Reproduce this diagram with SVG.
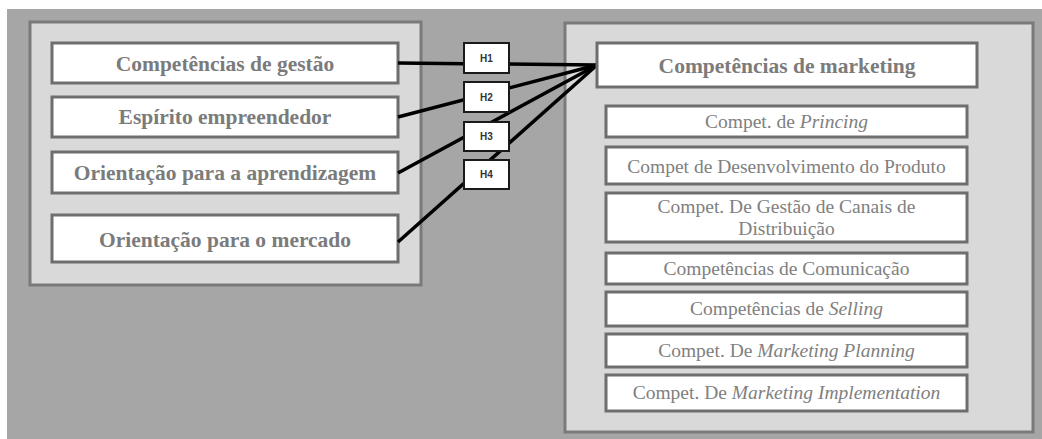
<svg xmlns="http://www.w3.org/2000/svg" width="1042" height="439" viewBox="0 0 1042 439">
  <style>
    .panel { fill: #d9d9d9; stroke: #7a7a7a; stroke-width: 3; }
    .box { fill: #ffffff; stroke: #6e6e6e; stroke-width: 3; }
    .hbox { fill: #ffffff; stroke: #1a1a1a; stroke-width: 2; }
    .link { stroke: #000000; stroke-width: 3.5; fill: none; }
    .lbl { font-family: "Liberation Serif", "Times New Roman", serif; font-weight: bold; font-size: 21.5px; fill: #7b7b7b; text-anchor: middle; }
    .sub { font-family: "Liberation Serif", "Times New Roman", serif; font-size: 19.5px; fill: #808080; text-anchor: middle; }
    .h { font-family: "Liberation Sans", Arial, sans-serif; font-weight: bold; font-size: 10px; fill: #333333; text-anchor: middle; }
    .it { font-style: italic; }
  </style>

  <!-- backdrop -->
  <rect x="0" y="0" width="1042" height="439" fill="#ffffff"/>
  <rect x="7" y="9" width="1035" height="430" fill="#a6a6a6"/>

  <!-- panels -->
  <rect class="panel" x="30" y="22" width="391" height="263"/>
  <rect class="panel" x="565" y="23" width="468" height="409"/>

  <!-- left-hand constructs -->
  <g id="gestao">
    <rect class="box" x="52" y="43" width="346" height="40"/>
    <text class="lbl" x="225" y="71">Competências de gestão</text>
  </g>
  <g id="empreendedor">
    <rect class="box" x="52" y="97" width="346" height="40"/>
    <text class="lbl" x="225" y="124">Espírito empreendedor</text>
  </g>
  <g id="aprendizagem">
    <rect class="box" x="52" y="152" width="346" height="41"/>
    <text class="lbl" x="225" y="180">Orientação para a aprendizagem</text>
  </g>
  <g id="mercado">
    <rect class="box" x="52" y="215" width="346" height="47"/>
    <text class="lbl" x="225" y="247">Orientação para o mercado</text>
  </g>

  <!-- connectors -->
  <g id="connectors">
    <line class="link" x1="398" y1="63" x2="597" y2="65"/>
    <line class="link" x1="398" y1="117" x2="597" y2="65"/>
    <line class="link" x1="398" y1="173" x2="597" y2="65"/>
    <line class="link" x1="398" y1="242" x2="597" y2="65"/>
  </g>

  <!-- hypothesis tags -->
  <g id="h1">
    <rect class="hbox" x="464" y="43" width="45" height="30"/>
    <text class="h" x="486.5" y="62">H1</text>
  </g>
  <g id="h2">
    <rect class="hbox" x="464" y="82" width="45" height="30"/>
    <text class="h" x="486.5" y="101">H2</text>
  </g>
  <g id="h3">
    <rect class="hbox" x="464" y="122" width="45" height="29"/>
    <text class="h" x="486.5" y="140">H3</text>
  </g>
  <g id="h4">
    <rect class="hbox" x="464" y="160" width="45" height="29"/>
    <text class="h" x="486.5" y="178">H4</text>
  </g>

  <!-- marketing competences -->
  <g id="marketing">
    <rect class="box" x="597" y="43" width="380" height="44"/>
    <text class="lbl" x="787" y="73">Competências de marketing</text>
  </g>
  <g id="pricing">
    <rect class="box" x="606" y="106" width="361" height="31"/>
    <text class="sub" x="786.5" y="128">Compet. de <tspan class="it">Princing</tspan></text>
  </g>
  <g id="produto">
    <rect class="box" x="606" y="147" width="361" height="37"/>
    <text class="sub" x="786.5" y="173">Compet de Desenvolvimento do Produto</text>
  </g>
  <g id="distribuicao">
    <rect class="box" x="606" y="193" width="361" height="49"/>
    <text class="sub" x="786.5" y="213">Compet. De Gestão de Canais de</text>
    <text class="sub" x="786.5" y="235">Distribuição</text>
  </g>
  <g id="comunicacao">
    <rect class="box" x="606" y="253" width="361" height="31"/>
    <text class="sub" x="786.5" y="275">Competências de Comunicação</text>
  </g>
  <g id="selling">
    <rect class="box" x="606" y="292" width="361" height="34"/>
    <text class="sub" x="786.5" y="315">Competências de <tspan class="it">Selling</tspan></text>
  </g>
  <g id="planning">
    <rect class="box" x="606" y="334" width="361" height="33"/>
    <text class="sub" x="786.5" y="357">Compet. De <tspan class="it">Marketing Planning</tspan></text>
  </g>
  <g id="implementation">
    <rect class="box" x="606" y="375" width="361" height="36"/>
    <text class="sub" x="786.5" y="399">Compet. De <tspan class="it">Marketing Implementation</tspan></text>
  </g>
</svg>
